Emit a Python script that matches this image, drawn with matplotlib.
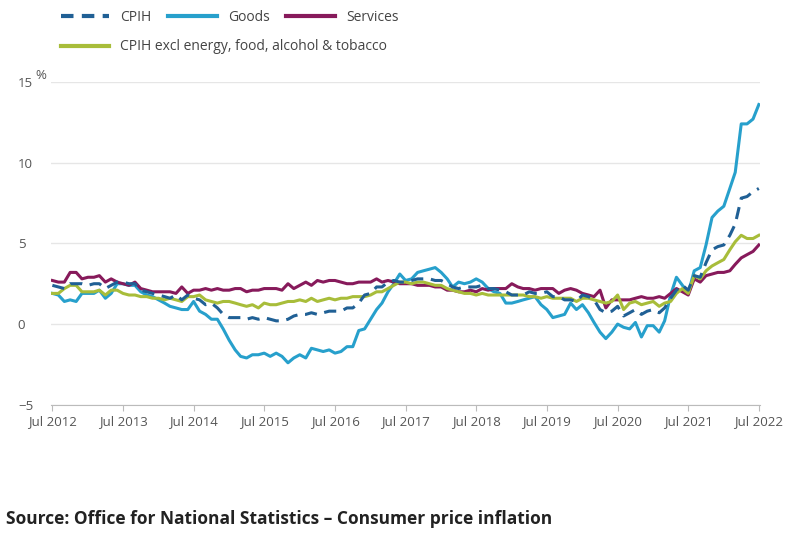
import numpy as np
import pandas as pd
import matplotlib
matplotlib.use("Agg")
import matplotlib.pyplot as plt
from matplotlib.lines import Line2D

plt.rcParams['font.family'] = ['Open Sans', 'DejaVu Sans']

months = pd.date_range("2012-07-01", "2022-07-01", freq="MS")

cpih = [2.4, 2.3, 2.2, 2.5, 2.5, 2.5,
        2.4, 2.5, 2.5, 2.2, 2.4, 2.6, 2.6, 2.5, 2.5, 2.1, 2.0, 1.9,
        1.8, 1.7, 1.6, 1.8, 1.5, 1.8, 1.6, 1.5, 1.2, 1.3, 1.0, 0.6,
        0.4, 0.4, 0.4, 0.3, 0.4, 0.3, 0.4, 0.3, 0.2, 0.2, 0.3, 0.5,
        0.6, 0.6, 0.7, 0.6, 0.7, 0.8, 0.8, 0.8, 1.0, 1.0, 1.3, 1.8,
        1.9, 2.3, 2.3, 2.6, 2.7, 2.6, 2.6, 2.7, 2.8, 2.8, 2.8, 2.7,
        2.7, 2.5, 2.3, 2.2, 2.3, 2.3, 2.3, 2.4, 2.2, 2.2, 2.1, 2.0,
        1.8, 1.8, 1.8, 2.0, 1.9, 1.9, 2.0, 1.7, 1.7, 1.5, 1.5, 1.4,
        1.8, 1.7, 1.5, 0.9, 0.7, 0.8, 1.1, 0.5, 0.7, 0.9, 0.6, 0.8,
        0.9, 0.7, 1.0, 1.6, 2.1, 2.4, 2.1, 3.0, 2.9, 3.8, 4.6, 4.8,
        4.9, 5.5, 6.2, 7.8, 7.9, 8.2, 8.4]

goods = [1.9, 1.8, 1.4, 1.5, 1.4, 1.9,
         1.9, 1.9, 2.1, 1.6, 1.9, 2.5, 2.5, 2.4, 2.4, 2.0, 1.8, 1.7,
         1.5, 1.3, 1.1, 1.0, 0.9, 0.9, 1.4, 0.8, 0.6, 0.3, 0.3, -0.3,
         -1.0, -1.6, -2.0, -2.1, -1.9, -1.9, -1.8, -2.0, -1.8, -2.0, -2.4, -2.1,
         -1.9, -2.1, -1.5, -1.6, -1.7, -1.6, -1.8, -1.7, -1.4, -1.4, -0.4, -0.3,
         0.3, 0.9, 1.3, 2.0, 2.5, 3.1, 2.7, 2.8, 3.2, 3.3, 3.4, 3.5,
         3.2, 2.8, 2.3, 2.6, 2.5, 2.6, 2.8, 2.6, 2.2, 2.0, 1.9, 1.3,
         1.3, 1.4, 1.5, 1.6, 1.7, 1.2, 0.9, 0.4, 0.5, 0.6, 1.3, 0.9,
         1.2, 0.7, 0.1, -0.5, -0.9, -0.5, 0.0, -0.2, -0.3, 0.1, -0.8, -0.1,
         -0.1, -0.5, 0.2, 1.8, 2.9, 2.4, 1.9, 3.3, 3.5, 4.9, 6.6, 7.0,
         7.3, 8.4, 9.4, 12.4, 12.4, 12.7, 13.6]

services = [2.7, 2.6, 2.6, 3.2, 3.2, 2.8,
            2.9, 2.9, 3.0, 2.6, 2.8, 2.6, 2.5, 2.4, 2.6, 2.2, 2.1, 2.0,
            2.0, 2.0, 2.0, 1.9, 2.3, 1.9, 2.1, 2.1, 2.2, 2.1, 2.2, 2.1,
            2.1, 2.2, 2.2, 2.0, 2.1, 2.1, 2.2, 2.2, 2.2, 2.1, 2.5, 2.2,
            2.4, 2.6, 2.4, 2.7, 2.6, 2.7, 2.7, 2.6, 2.5, 2.5, 2.6, 2.6,
            2.6, 2.8, 2.6, 2.7, 2.6, 2.5, 2.5, 2.5, 2.4, 2.4, 2.4, 2.3,
            2.3, 2.1, 2.1, 2.0, 2.0, 2.1, 2.0, 2.2, 2.1, 2.2, 2.2, 2.2,
            2.5, 2.3, 2.2, 2.2, 2.1, 2.2, 2.2, 2.2, 1.9, 2.1, 2.2, 2.1,
            1.9, 1.8, 1.7, 2.1, 1.0, 1.5, 1.5, 1.5, 1.5, 1.6, 1.7, 1.6,
            1.6, 1.7, 1.6, 1.9, 2.2, 2.0, 1.8, 2.8, 2.6, 3.0, 3.1, 3.2,
            3.2, 3.3, 3.7, 4.1, 4.3, 4.5, 4.9]

core = [1.9, 1.9, 2.2, 2.4, 2.4, 2.0,
        2.0, 2.0, 2.1, 1.8, 2.1, 2.1, 1.9, 1.8, 1.8, 1.7, 1.7, 1.6,
        1.6, 1.5, 1.6, 1.5, 1.4, 1.7, 1.7, 1.8, 1.5, 1.4, 1.3, 1.4,
        1.4, 1.3, 1.2, 1.1, 1.2, 1.0, 1.3, 1.2, 1.2, 1.3, 1.4, 1.4,
        1.5, 1.4, 1.6, 1.4, 1.5, 1.6, 1.5, 1.6, 1.6, 1.7, 1.7, 1.7,
        1.8, 2.0, 2.0, 2.2, 2.4, 2.6, 2.6, 2.5, 2.6, 2.6, 2.5, 2.4,
        2.4, 2.2, 2.1, 2.0, 1.9, 1.9, 1.8, 1.9, 1.8, 1.8, 1.8, 1.8,
        1.8, 1.8, 1.8, 1.7, 1.7, 1.6, 1.7, 1.6, 1.6, 1.6, 1.6, 1.4,
        1.6, 1.6, 1.5, 1.4, 1.3, 1.4, 1.8, 0.9, 1.3, 1.4, 1.2, 1.3,
        1.4, 1.1, 1.3, 1.4, 1.9, 2.2, 1.9, 3.0, 2.8, 3.3, 3.6, 3.8,
        4.0, 4.6, 5.1, 5.5, 5.3, 5.3, 5.5]

fig = plt.figure(figsize=(8, 5.39), dpi=100)
ax = fig.add_axes([0.064, 0.249, 0.886, 0.599])

c_cpih, c_goods, c_serv, c_core = "#206095", "#27a0cc", "#871a5b", "#a8bd3a"
ax.plot(months, goods, color=c_goods, lw=2.2)
ax.plot(months, services, color=c_serv, lw=2.2)
ax.plot(months, core, color=c_core, lw=2.2)
ax.plot(months, cpih, color=c_cpih, lw=2.2, dashes=(4, 2.5))

ax.set_ylim(-5, 15)
ax.set_yticks([-5, 0, 5, 10, 15])
ax.set_xlim(months[0] - pd.Timedelta(days=6), months[-1] + pd.Timedelta(days=6))
xt = [pd.Timestamp(f"{y}-07-01") for y in range(2012, 2023)]
ax.set_xticks(xt)
ax.set_xticklabels([f"Jul {y}" for y in range(2012, 2023)])
ax.grid(axis="y", color="#e6e6e6", lw=1)
ax.set_axisbelow(True)
for s in ["top", "right", "left"]:
    ax.spines[s].set_visible(False)
ax.spines["bottom"].set_color("#bbbbbb")
ax.tick_params(axis="y", length=0, labelsize=9.5, colors="#555555", pad=24)
ax.tick_params(axis="x", length=4, color="#bbbbbb", labelsize=9.5, colors="#555555")
for lab in ax.get_yticklabels():
    lab.set_horizontalalignment("left")
ax.text(-0.022, 1.0, "%", transform=ax.transAxes, fontsize=9.5, color="#555555", va="bottom")

handles = [Line2D([], [], color=c_cpih, lw=3, dashes=(3, 2)),
           Line2D([], [], color=c_goods, lw=3),
           Line2D([], [], color=c_serv, lw=3)]
fig.legend(handles, ["CPIH", "Goods", "Services"], loc="upper left",
           bbox_to_anchor=(0.06, 1.005), ncol=3, frameon=False, fontsize=10,
           handlelength=3.5, columnspacing=1.2, labelcolor="#444444")
fig.legend([Line2D([], [], color=c_core, lw=3)],
           ["CPIH excl energy, food, alcohol & tobacco"], loc="upper left",
           bbox_to_anchor=(0.06, 0.95), frameon=False, fontsize=10,
           handlelength=3.5, labelcolor="#444444")

fig.text(0.008, 0.028, "Source: Office for National Statistics \u2013 Consumer price inflation",
         fontsize=12.5, fontweight="bold", color="#222222")

fig.savefig("out.png", dpi=100, facecolor="white")
